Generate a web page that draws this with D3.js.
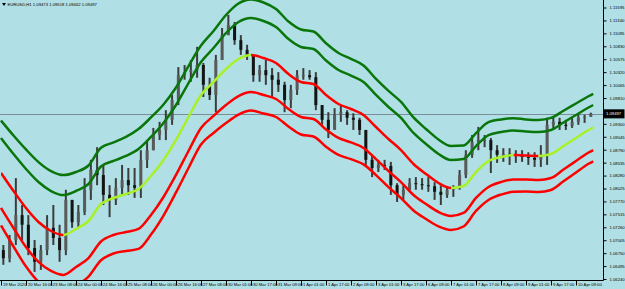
<!DOCTYPE html>
<html><head><meta charset="utf-8">
<script src="https://cdn.jsdelivr.net/npm/d3@7"></script>
<style>
html,body{margin:0;padding:0;background:#b0e0e6;}
svg{display:block;}
text{font-family:"Liberation Sans",Arial,sans-serif;}
</style></head><body>
<svg id="c" width="625" height="289"></svg>
<script>
// ---------- data ----------
const symbol = "EURUSD,H1";
const lastQuote = [1.09473, 1.09518, 1.09462, 1.09497];
const barsPerCandle = 4;          // each candle below groups 4 hourly bars
const totalBars = 384;
const firstOpen = 1.0681;
const candleHigh = [1.0691,1.0711,1.0823,1.0770,1.0750,1.0701,1.0691,1.0750,1.0770,1.0731,
  1.0800,1.0780,1.0770,1.0823,1.0859,1.0884,1.0849,1.0809,1.0823,1.0849,
  1.0843,1.0843,1.0878,1.0898,1.0922,1.0934,1.0957,1.0987,1.1042,1.1046,
  1.1056,1.1082,1.1050,1.1021,1.1066,1.1119,1.1145,1.1131,1.1105,1.1086,
  1.1066,1.1046,1.1056,1.1040,1.1032,1.1013,1.1007,1.1036,1.1040,1.1036,
  1.1032,1.0967,1.0953,1.0961,1.0967,1.0957,1.0951,1.0942,1.0918,1.0869,
  1.0859,1.0859,1.0855,1.0813,1.0809,1.0823,1.0825,1.0823,1.0825,1.0815,
  1.0809,1.0807,1.0809,1.0839,1.0878,1.0908,1.0924,1.0908,1.0902,1.0888,
  1.0882,1.0882,1.0878,1.0878,1.0874,1.0874,1.0888,1.0942,1.0944,1.0942,
  1.0938,1.0942,1.0948,1.0948,1.0952];
const candleLow = [1.0652,1.0657,1.0691,1.0701,1.0671,1.0638,1.0642,1.0671,1.0691,1.0658,
  1.0671,1.0725,1.0725,1.0750,1.0780,1.0809,1.0770,1.0746,1.0770,1.0790,
  1.0790,1.0784,1.0784,1.0843,1.0878,1.0898,1.0898,1.0928,1.0967,1.1017,
  1.1013,1.1021,1.0983,1.0977,1.0953,1.1056,1.1105,1.1086,1.1066,1.1056,
  1.1013,1.1013,1.1007,1.0983,1.0993,1.0953,1.0961,1.0987,1.1017,1.1017,
  1.0957,1.0928,1.0902,1.0922,1.0934,1.0928,1.0918,1.0908,1.0849,1.0825,
  1.0835,1.0839,1.0790,1.0776,1.0780,1.0796,1.0800,1.0800,1.0796,1.0780,
  1.0770,1.0784,1.0786,1.0800,1.0823,1.0863,1.0878,1.0884,1.0833,1.0853,
  1.0855,1.0849,1.0853,1.0855,1.0849,1.0845,1.0845,1.0849,1.0918,1.0918,
  1.0918,1.0922,1.0928,1.0932,1.0944];
const candleClose = [1.0665,1.0701,1.0750,1.0731,1.0685,1.0658,1.0681,1.0725,1.0705,1.0681,
  1.0780,1.0736,1.0756,1.0800,1.0839,1.0829,1.0790,1.0780,1.0804,1.0819,
  1.0809,1.0804,1.0859,1.0878,1.0908,1.0918,1.0938,1.0977,1.1026,1.1032,
  1.1036,1.1046,1.1007,1.0987,1.1056,1.1105,1.1125,1.1095,1.1076,1.1066,
  1.1026,1.1036,1.1026,1.1017,1.1007,1.0977,1.0997,1.1026,1.1026,1.1022,
  1.0967,1.0938,1.0918,1.0948,1.0953,1.0942,1.0938,1.0918,1.0859,1.0843,
  1.0849,1.0847,1.0809,1.0790,1.0800,1.0813,1.0811,1.0809,1.0807,1.0796,
  1.0790,1.0800,1.0804,1.0829,1.0869,1.0894,1.0898,1.0898,1.0878,1.0869,
  1.0871,1.0869,1.0867,1.0865,1.0863,1.0859,1.0869,1.0928,1.0934,1.0928,
  1.0926,1.0934,1.0942,1.0944,1.0950];

// indicator: centre line and band unit, sampled every 8 hourly bars (+ last bar)
const lineStep = 8;
const lastBar = 379;
const midLine = [1.08331,1.07976,1.07640,1.07364,1.07187,1.07108,1.07226,1.07384,1.07719,1.07838,
  1.07917,1.08015,1.08272,1.08587,1.08982,1.09435,1.09869,1.10126,1.10382,1.10579,
  1.10658,1.10599,1.10500,1.10283,1.10126,1.10086,1.09869,1.09692,1.09593,1.09475,
  1.09238,1.09001,1.08784,1.08508,1.08311,1.08134,1.08035,1.08074,1.08350,1.08567,
  1.08646,1.08686,1.08676,1.08666,1.08706,1.08863,1.09021,1.09179,1.09228];
const bandUnit = [0.00345,0.00365,0.00385,0.00394,0.00394,0.00394,0.00375,0.00365,0.00370,0.00365,
  0.00375,0.00394,0.00385,0.00365,0.00345,0.00335,0.00325,0.00335,0.00355,0.00365,
  0.00365,0.00365,0.00355,0.00345,0.00345,0.00345,0.00340,0.00335,0.00330,0.00325,
  0.00316,0.00316,0.00316,0.00306,0.00296,0.00286,0.00276,0.00266,0.00256,0.00256,
  0.00247,0.00242,0.00237,0.00237,0.00237,0.00232,0.00227,0.00222,0.00222];
const innerMult = 2, outerMult = 3;

const priceTicks = ["1.11595","1.11340","1.11085","1.10830","1.10575","1.10320","1.10065","1.09810",
  "1.09555","1.09300","1.09045","1.08790","1.08535","1.08280","1.08025","1.07770","1.07515",
  "1.07260","1.07005","1.06750","1.06495","1.06240"];
const timeLabels = ["19 Mar 2020","20 Mar 16:00","23 Mar 08:00","24 Mar 00:00","24 Mar 16:00",
  "25 Mar 08:00","26 Mar 00:00","26 Mar 16:00","27 Mar 08:00","30 Mar 01:00","30 Mar 17:00",
  "31 Mar 09:00","1 Apr 01:00","1 Apr 17:00","2 Apr 09:00","3 Apr 01:00","3 Apr 17:00",
  "6 Apr 09:00","7 Apr 01:00","7 Apr 17:00","8 Apr 09:00","9 Apr 01:00","9 Apr 17:00","10 Apr 09:00"];
const timeLabelStep = 16;

// ---------- drawing ----------
const svg = d3.select("#c");
const plotR = 603, plotB = 280;
const x = d3.scaleLinear().domain([0, totalBars]).range([1, 601]);
const y = d3.scaleLinear().domain([+priceTicks[priceTicks.length-1], +priceTicks[0]]).range([279, 7.5]);

const defs = svg.append("defs");
defs.append("clipPath").attr("id","plot").append("rect")
  .attr("x",0).attr("y",0).attr("width",plotR).attr("height",plotB);

const plot = svg.append("g").attr("clip-path","url(#plot)");

// bid line
const bidY = Math.round(y(lastQuote[3]))+0.5;
plot.append("line").attr("x1",0).attr("x2",plotR).attr("y1",bidY).attr("y2",bidY)
  .attr("stroke","#7d8c99").attr("stroke-width",1);

// candles
const candles = candleClose.map((c,i)=>({
  o: i===0 ? firstOpen : candleClose[i-1], h: candleHigh[i], l: candleLow[i], c,
  bar: i*barsPerCandle + (barsPerCandle-1)/2
}));
const cg = plot.append("g");
cg.selectAll("line.w").data(candles).join("line").attr("class","w")
  .attr("x1",d=>x(d.bar)).attr("x2",d=>x(d.bar))
  .attr("y1",d=>y(d.h)).attr("y2",d=>y(d.l))
  .attr("stroke","#3c3c3c").attr("stroke-width",2);
cg.selectAll("rect").data(candles).join("rect")
  .attr("x",d=>x(d.bar)-1.5).attr("width",3)
  .attr("y",d=>Math.min(y(d.o),y(d.c)))
  .attr("height",d=>Math.max(1,Math.abs(y(d.o)-y(d.c))))
  .attr("fill",d=>d.c>=d.o ? "#5a5a5a" : "#141414");

// indicator lines
const lineBars = d3.range(0, lastBar, lineStep).concat([lastBar]);
const pts = midLine.map((m,i)=>({bar: lineBars[i], m, u: bandUnit[i]}));
const mk = f => d3.line().x(d=>x(d.bar)).y(f).curve(d3.curveMonotoneX)(pts);

const bands = [
  {f:d=>y(d.m + outerMult*d.u), c:"#0a760a"},
  {f:d=>y(d.m + innerMult*d.u), c:"#0a760a"},
  {f:d=>y(d.m - innerMult*d.u), c:"#ff0000"},
  {f:d=>y(d.m - outerMult*d.u), c:"#ff0000"}
];
bands.forEach(b=>plot.append("path").attr("d",mk(b.f)).attr("fill","none")
  .attr("stroke",b.c).attr("stroke-width",2.5).attr("stroke-linejoin","round"));

// centre line coloured by direction
const riseClip = defs.append("clipPath").attr("id","rise");
const fallClip = defs.append("clipPath").attr("id","fall");
for (let i=0;i<pts.length-1;i++){
  const up = pts[i+1].m >= pts[i].m;
  (up?riseClip:fallClip).append("rect")
    .attr("x",x(pts[i].bar)).attr("width",x(pts[i+1].bar)-x(pts[i].bar)+0.01)
    .attr("y",0).attr("height",plotB);
}
const midPath = mk(d=>y(d.m));
plot.append("path").attr("d",midPath).attr("fill","none").attr("stroke","#ff0000")
  .attr("stroke-width",2.5).attr("clip-path","url(#fall)");
plot.append("path").attr("d",midPath).attr("fill","none").attr("stroke","#a8f028")
  .attr("stroke-width",2.5).attr("clip-path","url(#rise)");

// frame
svg.append("line").attr("x1",plotR+0.5).attr("x2",plotR+0.5).attr("y1",0).attr("y2",plotB+0.5)
  .attr("stroke","#000").attr("stroke-width",1);
svg.append("line").attr("x1",0).attr("x2",plotR+0.5).attr("y1",plotB+0.5).attr("y2",plotB+0.5)
  .attr("stroke","#000").attr("stroke-width",1);

// price axis (labels hidden under the current-price box are skipped, as on the terminal)
const py = y(lastQuote[3]);
const shownTicks = priceTicks.filter(t=>Math.abs(y(+t)-py) > 6);
const yAxis = d3.axisRight(y).tickValues(shownTicks.map(Number))
  .tickFormat(d=>d3.format(".5f")(d)).tickSize(3).tickPadding(3);
const ya = svg.append("g").attr("transform",`translate(${plotR+0.5},0)`).call(yAxis);
ya.select(".domain").remove();
ya.selectAll("line").attr("stroke","#000");
ya.selectAll("text").attr("font-size",4.2).attr("fill","#000")
  .attr("font-family","Liberation Sans, Arial, sans-serif");

// current price box
svg.append("rect").attr("x",plotR+1).attr("y",py-4).attr("width",20).attr("height",8)
  .attr("fill","#000").attr("stroke","#000");
svg.append("text").attr("x",plotR+3).attr("y",py).attr("dy","0.35em")
  .attr("font-size",4.2).attr("fill","#fff").text(d3.format(".5f")(lastQuote[3]));

// time axis
const timeBars = timeLabels.map((t,i)=>i*timeLabelStep);
const xAxis = d3.axisBottom(x).tickValues(timeBars).tickFormat((d,i)=>timeLabels[i])
  .tickSize(5).tickSizeOuter(0);
const xa = svg.append("g").attr("transform",`translate(0,${plotB+0.5})`).call(xAxis);
xa.select(".domain").remove();
xa.selectAll("line").attr("stroke","#000");
xa.selectAll("text").attr("text-anchor","start").attr("x",1.5).attr("y",2.2).attr("dy","0.71em")
  .attr("font-size",4.2).attr("fill","#000").attr("font-family","Liberation Sans, Arial, sans-serif");

// title
svg.append("path").attr("d","M2,3 L6,3 L4,6 Z").attr("fill","#000");
svg.append("text").attr("x",7.5).attr("y",4.5).attr("dy","0.35em").attr("font-size",4.2)
  .attr("fill","#000").text(`${symbol} ${lastQuote.map(d3.format(".5f")).join(" ")}`);
</script>
</body></html>
